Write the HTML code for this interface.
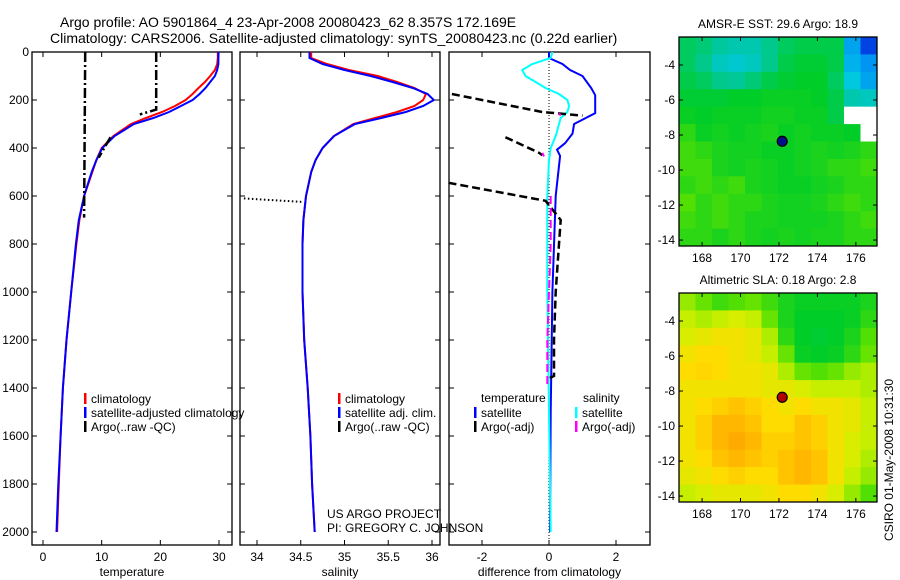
<!DOCTYPE html>
<html><head><meta charset="utf-8"><style>
html,body{margin:0;padding:0;background:#fff;}
svg{display:block;font-family:"Liberation Sans",sans-serif;}
</style></head><body>
<svg id="fig" width="900" height="580" viewBox="0 0 900 580" xmlns="http://www.w3.org/2000/svg">
<text x="60" y="27" font-size="14">Argo profile: AO 5901864_4 23-Apr-2008 20080423_62 8.357S 172.169E</text>
<text x="50" y="43" font-size="14">Climatology: CARS2006. Satellite-adjusted climatology: synTS_20080423.nc (0.22d earlier)</text>
<g id="g"></g>
</svg>
<script>
// ---- profile data ----
const depthClim = [0,25,50,75,100,125,150,175,200,225,250,275,300,350,400,450,500,600,700,800,1000,1200,1400,1600,1800,2000];
const tempClim = [29.8,29.8,29.7,29.3,28.5,27.6,26.5,25.5,24.3,22.5,20.3,17.5,15,12,10,9.1,8.4,7,6.2,5.7,4.8,4,3.4,3,2.7,2.4];
const tempSat = [29.9,29.9,29.9,29.7,29.3,28.5,27.7,26.7,25.5,23.5,21.5,18.8,15.5,12.2,10.1,9.1,8.3,7,6.1,5.6,4.8,4,3.4,3,2.6,2.3];
const salClim = [34.62,34.62,34.8,35.05,35.38,35.6,35.8,35.93,35.9,35.8,35.6,35.35,35.1,34.88,34.75,34.67,34.62,34.56,34.53,34.52,34.52,34.54,34.58,34.61,34.63,34.66];
const salSat = [34.6,34.6,34.75,35,35.3,35.55,35.78,35.95,36.02,35.9,35.7,35.42,35.12,34.88,34.75,34.67,34.62,34.56,34.53,34.52,34.52,34.54,34.58,34.61,34.63,34.66];
const argoTDepth = [0,690,null,0,240,260,null,355,440];
const argoTVal = [7.2,7.0,null,19.3,19.3,16.5,null,11.5,9.5];
const argoSDepth = [610,625];
const argoSVal = [33.85,34.53];
const diffDepth = [0,25,50,75,100,150,180,255,300,340,380,407,433,600,1000,1500,2000];
const tempDiff = [0,0,0.4,0.63,1.0,1.26,1.38,1.38,0.75,0.7,0.48,0.24,0.33,0.2,0.1,0.05,0.03];
const salDiffDepth = [0,25,50,75,100,125,150,175,200,225,250,275,300,350,400,450,600,800,1000,1500,2000];
const salDiff = [0.1,0.05,-0.5,-0.8,-0.7,-0.4,-0.1,0.3,0.55,0.6,0.55,0.35,0.3,0.2,0.05,0,-0.05,-0.05,-0.05,0,0.05];
const argoDiffDepth = [175,250,265,null,355,420,430,null,545,620,700,800,1000,1200,1350,1360];
const argoDiff = [-2.9,-0.2,1.0,null,-1.3,-0.3,-0.2,null,-3.0,-0.1,0.35,0.3,0.2,0.15,0.15,0];
const argoSalDiffDepth = [255,265,null,420,435,null,600,800,1000,1200,1400];
const argoSalDiff = [0.3,0.35,null,-0.2,-0.15,null,0.05,0.05,0,-0.05,-0.05];
const depthTicks = [0,200,400,600,800,1000,1200,1400,1600,1800,2000];
const tempTicks = [0,10,20,30];
const salTicks = [34,34.5,35,35.5,36];
const diffTicks = [-2,0,2];
// ---- map data ----
const sstGrid = [
[.5,.48,.44,.42,.42,.46,.5,.52,.52,.52,.3,.15],
[.5,.46,.40,.38,.40,.46,.52,.54,.54,.52,.32,.28],
[.52,.5,.46,.45,.48,.52,.54,.55,.55,.5,.36,.3],
[.54,.54,.54,.55,.55,.56,.56,.56,.55,.52,.42,.4],
[.56,.55,.56,.56,.56,.57,.57,.56,.56,.52,null,null],
[.6,.56,.57,.56,.57,.58,.56,.57,.56,.56,.55,null],
[.62,.6,.58,.57,.57,.56,.56,.57,.58,.57,.58,.6],
[.62,.62,.58,.57,.58,.57,.56,.57,.58,.6,.6,.62],
[.6,.62,.6,.62,.58,.57,.56,.56,.57,.58,.6,.6],
[.64,.6,.62,.6,.6,.58,.57,.57,.58,.6,.62,.6],
[.62,.6,.62,.6,.58,.58,.57,.57,.57,.58,.6,.62],
[.6,.6,.58,.6,.58,.57,.58,.57,.58,.58,.6,.6]];
const slaGrid = [
[.7,.66,.62,.64,.66,.62,.58,.56,.56,.56,.56,.58],
[.74,.72,.74,.76,.74,.66,.58,.55,.55,.55,.56,.6],
[.76,.78,.8,.8,.78,.72,.6,.55,.54,.55,.58,.64],
[.8,.82,.82,.8,.78,.74,.66,.56,.55,.56,.6,.66],
[.82,.83,.82,.8,.8,.78,.72,.66,.64,.66,.7,.72],
[.8,.8,.8,.8,.8,.78,.78,.76,.74,.74,.74,.72],
[.8,.82,.84,.86,.84,.82,.8,.82,.8,.8,.78,.74],
[.8,.84,.88,.88,.86,.82,.82,.86,.84,.8,.78,.74],
[.8,.84,.88,.9,.88,.84,.84,.86,.84,.8,.76,.74],
[.8,.82,.86,.88,.86,.84,.86,.88,.86,.8,.76,.72],
[.78,.8,.82,.84,.82,.82,.86,.88,.86,.8,.74,.7],
[.74,.76,.78,.78,.78,.8,.82,.82,.8,.76,.7,.64]];
const lonTicks = [168,170,172,174,176];
const latTicks = [-4,-6,-8,-10,-12,-14];
const argoLon = 172.169, argoLat = -8.357;

const NS="http://www.w3.org/2000/svg";
const G=document.getElementById('g');
function mk(tag,attrs,parent){const e=document.createElementNS(NS,tag);for(const k in attrs)e.setAttribute(k,attrs[k]);(parent||G).appendChild(e);return e;}
const yTop=52, yBot=545, dPx=(532-52)/2000;
const yD=d=>yTop+d*dPx;
function pathFrom(xs,ds,fx){let s='',pen=false;for(let i=0;i<xs.length;i++){if(xs[i]===null||ds[i]===null){pen=false;continue;}s+=(pen?'L':'M')+fx(xs[i]).toFixed(1)+' '+yD(ds[i]).toFixed(1);pen=true;}return s;}
function panel(name,x0,x1,fx,ticks,label,showDepth){
  const r=mk('rect',{x:x0,y:yTop,width:x1-x0,height:yBot-yTop,fill:'none',stroke:'#000','stroke-width':1.3});
  
  
  ticks.forEach(t=>{const X=fx(t);
    mk('line',{x1:X,x2:X,y1:yBot,y2:yBot-5,stroke:'#000'});mk('line',{x1:X,x2:X,y1:yTop,y2:yTop+5,stroke:'#000'});
    const tx=mk('text',{x:X,y:yBot+16,'font-size':12,'text-anchor':'middle'});tx.textContent=String(t);
    
    });
  depthTicks.forEach(d=>{const Y=yD(d);mk('line',{x1:x0,x2:x0+5,y1:Y,y2:Y,stroke:'#000'});mk('line',{x1:x1,x2:x1-5,y1:Y,y2:Y,stroke:'#000'});
    if(showDepth){const tx=mk('text',{x:x0-3,y:Y+4,'font-size':12,'text-anchor':'end'});tx.textContent=String(d);
      
      }});
  const lb=mk('text',{x:(x0+x1)/2,y:yBot+31,'font-size':12,'text-anchor':'middle'});lb.textContent=label;
  
  
}
function line(name,xs,ds,fx,color,w,dash){const p=mk('path',{d:pathFrom(xs,ds,fx),fill:'none',stroke:color,'stroke-width':w});if(dash)p.setAttribute('stroke-dasharray',dash);
  
  }
function legend(x,y,items){items.forEach((it,i)=>{const Y=y+i*14;mk('rect',{x:x,y:Y-10,width:2.5,height:11,fill:it[1]});const t=mk('text',{x:x+7,y:Y,'font-size':12});t.textContent=it[0];
  
  });}

// Temperature panel
const fT=v=>43+v*(219-43)/30;
panel('temperature',32,232,fT,tempTicks,'temperature',true);
line('temp-climatology-line',tempClim,depthClim,fT,'#f00',2);
line('temp-satellite-line',tempSat,depthClim,fT,'#00f',2);
line('temp-argo-line',argoTVal,argoTDepth,fT,'#000',2.5,'10 3 2 3');
legend(84,403,[['climatology','#f00'],['satellite-adjusted climatology','#00f'],['Argo(..raw -QC)','#000']]);
// Salinity panel
const fS=v=>257+(v-34)*(432-257)/2;
panel('salinity',240,440,fS,salTicks,'salinity',false);
line('sal-climatology-line',salClim,depthClim,fS,'#f00',2);
line('sal-satellite-line',salSat,depthClim,fS,'#00f',2);
line('sal-argo-line',argoSVal,argoSDepth,fS,'#000',2,'1.5 2.5');
legend(338,403,[['climatology','#f00'],['satellite adj. clim.','#00f'],['Argo(..raw -QC)','#000']]);
const us=mk('text',{x:327,y:518,'font-size':12});us.textContent='US ARGO PROJECT';


const pi=mk('text',{x:327,y:532,'font-size':12});pi.textContent='PI: GREGORY C. JOHNSON';


// Difference panel
const fD=v=>549+v*(616-549)/2;
panel('difference',449,650,fD,diffTicks,'difference from climatology',false);
mk('line',{x1:fD(0),x2:fD(0),y1:yTop,y2:yBot,stroke:'#000','stroke-dasharray':'1 2'});
line('temp-diff-satellite-line',tempDiff,diffDepth,fD,'#00f',2);
line('sal-diff-satellite-line',salDiff,salDiffDepth,fD,'#0ff',2);
line('temp-diff-argo-line',argoDiff,argoDiffDepth,fD,'#000',2.5,'8 4');
line('sal-diff-argo-line',argoSalDiff,argoSalDiffDepth,fD,'#f0f',2,'8 4');
const th=mk('text',{x:481,y:402,'font-size':12});th.textContent='temperature';
const sh=mk('text',{x:583,y:402,'font-size':12});sh.textContent='salinity';
legend(474,417,[['satellite','#00f'],['Argo(-adj)','#000']]);
legend(575,417,[['satellite','#0ff'],['Argo(-adj)','#f0f']]);

// Maps
const stops=[[0,[0,0,140]],[0.2,[0,90,255]],[0.35,[0,200,230]],[0.45,[0,200,150]],[0.55,[0,205,40]],[0.65,[90,225,0]],[0.75,[210,240,0]],[0.82,[255,220,0]],[0.9,[255,170,0]],[1,[230,80,0]]];
function cmap(v){for(let i=1;i<stops.length;i++){if(v<=stops[i][0]){const a=stops[i-1],b=stops[i],t=(v-a[0])/(b[0]-a[0]);return 'rgb('+a[1].map((c,j)=>Math.round(c+(b[1][j]-c)*t)).join(',')+')';}}return 'rgb(230,80,0)';}
function map(name,top,grid,title,dotColor){
  const x0=679,x1=877,y0=top,y1=top+209;
  const lonMin=166.8,lonMax=177.1,latMax=-2.4,latMin=-14.34;
  const fx=l=>x0+(l-lonMin)/(lonMax-lonMin)*(x1-x0);
  const fy=l=>y0+(latMax-l)/(latMax-latMin)*(y1-y0);
  const rows=grid.length,cols=grid[0].length,cw=(x1-x0)/cols,ch=(y1-y0)/rows;
  grid.forEach((row,r)=>row.forEach((v,c)=>{
    const cell=mk('rect',{x:x0+c*cw,y:y0+r*ch,width:cw+0.5,height:ch+0.5,fill:v===null?'#fff':cmap(v)});
    
    
  }));
  const fr=mk('rect',{x:x0,y:y0,width:x1-x0,height:y1-y0,fill:'none',stroke:'#000','stroke-width':1.3});
  
  
  lonTicks.forEach(l=>{const X=fx(l);mk('line',{x1:X,x2:X,y1:y1,y2:y1-4,stroke:'#000'});mk('line',{x1:X,x2:X,y1:y0,y2:y0+4,stroke:'#000'});
    const t=mk('text',{x:X,y:y1+16,'font-size':12,'text-anchor':'middle'});t.textContent=String(l);
    
    });
  latTicks.forEach(l=>{const Y=fy(l);mk('line',{x1:x0,x2:x0+4,y1:Y,y2:Y,stroke:'#000'});mk('line',{x1:x1,x2:x1-4,y1:Y,y2:Y,stroke:'#000'});
    const t=mk('text',{x:x0-4,y:Y+4,'font-size':12,'text-anchor':'end'});t.textContent=String(l);
    
    });
  const tt=mk('text',{x:(x0+x1)/2,y:y0-9,'font-size':12,'text-anchor':'middle'});tt.textContent=title;
  
  
  const dot=mk('circle',{cx:fx(argoLon),cy:fy(argoLat),r:5,fill:dotColor,stroke:'#000','stroke-width':1.2});
  
  
}
map('sst-map',37,sstGrid,'AMSR-E SST: 29.6 Argo: 18.9','#00108a');
map('sla-map',293,slaGrid,'Altimetric SLA: 0.18 Argo: 2.8','#b00000');
const cs=mk('text',{x:0,y:0,'font-size':12,'text-anchor':'middle',transform:'translate(893,460) rotate(-90)'});cs.textContent='CSIRO 01-May-2008 10:31:30';


</script>
</body></html>
